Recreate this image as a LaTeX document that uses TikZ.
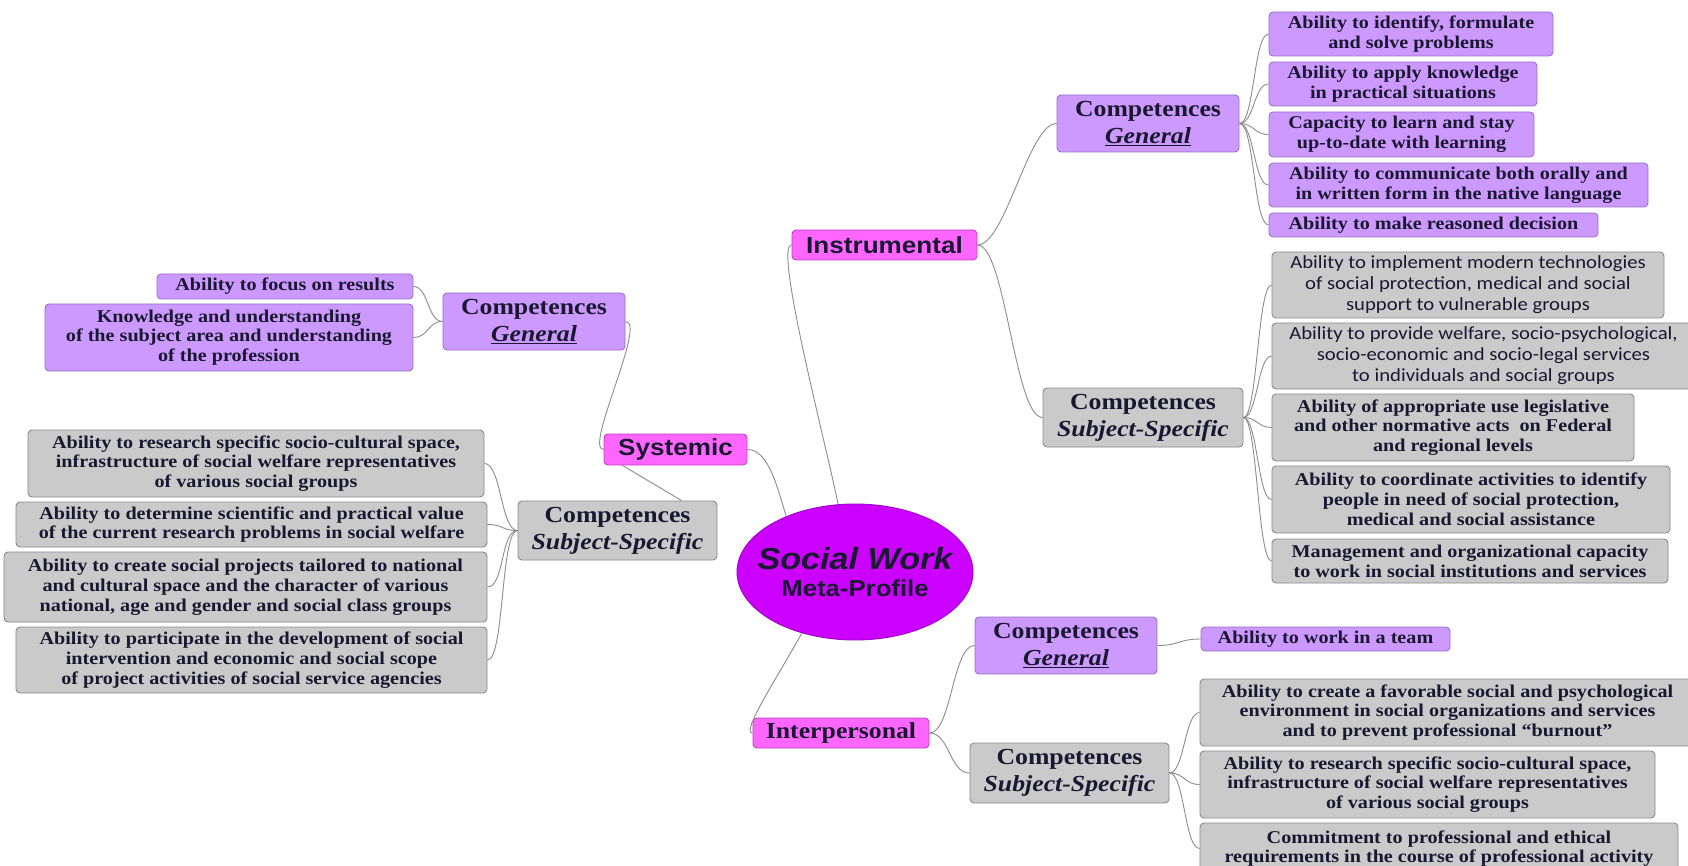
\documentclass[tikz,border=0pt]{standalone}
\usepackage{fontspec}
\usetikzlibrary{fit,calc,shapes.geometric}
\newfontfamily\rs[FakeStretch=1.12]{Liberation Serif}
\newfontfamily\ra[FakeStretch=1.12]{Liberation Sans}
\newfontfamily\rc[FakeStretch=1.12]{Carlito}
\definecolor{lav}{HTML}{CC99FF}
\definecolor{lavd}{HTML}{9A70C8}
\definecolor{gry}{HTML}{CACACA}
\definecolor{gryd}{HTML}{8A8A8A}
\definecolor{mag}{HTML}{FF66FF}
\definecolor{magd}{HTML}{C040C0}
\definecolor{vio}{HTML}{CC00FF}
\definecolor{viod}{HTML}{A000D0}
\definecolor{ink}{HTML}{1A1830}
\definecolor{wire}{HTML}{8C8C8C}
\tikzset{
 base/.style={draw, rounded corners=4pt, line width=0.9pt, inner sep=0pt},
 lavbox/.style={base, fill=lav, draw=lavd},
 grybox/.style={base, fill=gry, draw=gryd},
 magbox/.style={base, fill=mag, draw=magd},
 txt/.style={inner sep=0pt, align=center, text=ink},
 leaftxt/.style={txt, font=\rs\bfseries\fontsize{18}{19.8}\selectfont},
 sanstxt/.style={txt, font=\rc\fontsize{18.5}{21}\selectfont},
 comptxt/.style={txt, font=\rs\bfseries\fontsize{23}{27}\selectfont},
 cattxt/.style={txt, font=\ra\bfseries\fontsize{23.3}{27}\selectfont},
 link/.style={draw=wire, line width=0.9pt},
}
% #1 box style, #2 text style, #3 name, #4-#7 corners, #8 text
\newcommand\boxat[8]{%
 \node[#1, fit={(#4,#5) (#6,#7)}] (#3) {};
 \node[#2] (#3t) at (#3.center) {#8};}
\newcommand\gen{\underline{\textit{General}}}
\newcommand\subj{\textit{Subject-Specific}}
\begin{document}
\begin{tikzpicture}[x=1pt,y=-1pt]
\useasboundingbox (0,0) rectangle (1688,866);
\fill[white] (0,0) rectangle (1688,866);

% centre
\node[ellipse, draw=viod, fill=vio, line width=0.9pt, minimum width=236pt, minimum height=136pt, inner sep=0pt] (sw) at (855,572) {};
\node[txt, font=\ra\bfseries\fontsize{23}{27}\selectfont] (swt) at (sw.center) {{\itshape\fontsize{30.5}{32}\selectfont Social Work}\\Meta-Profile};

% categories
\boxat{magbox}{cattxt}{ins}{792}{230}{977}{260}{Instrumental}
\boxat{magbox}{cattxt}{sys}{604}{434}{747}{465}{Systemic}
\boxat{magbox}{comptxt}{ipr}{753}{718}{929}{748}{Interpersonal}

% competences
\boxat{lavbox}{comptxt}{cgI}{1057}{95}{1239}{152}{Competences\\\gen}
\boxat{grybox}{comptxt}{csI}{1043}{388}{1243}{447}{Competences\\\subj}
\boxat{lavbox}{comptxt}{cgS}{443}{293}{625}{350}{Competences\\\gen}
\boxat{grybox}{comptxt}{csS}{518}{501}{717}{560}{Competences\\\subj}
\boxat{lavbox}{comptxt}{cgP}{975}{617}{1157}{674}{Competences\\\gen}
\boxat{grybox}{comptxt}{csP}{970}{743}{1169}{803}{Competences\\\subj}

% instrumental general
\boxat{lavbox}{leaftxt}{ig1}{1269}{12}{1553}{56}{Ability to identify, formulate\\and solve problems}
\boxat{lavbox}{leaftxt}{ig2}{1269}{62}{1537}{106}{Ability to apply knowledge\\in practical situations}
\boxat{lavbox}{leaftxt}{ig3}{1269}{112}{1534}{157}{Capacity to learn and stay\\up-to-date with learning}
\boxat{lavbox}{leaftxt}{ig4}{1269}{163}{1648}{207}{Ability to communicate both orally and\\in written form in the native language}
\boxat{lavbox}{leaftxt}{ig5}{1269}{213}{1598}{237}{Ability to make reasoned decision}

% instrumental subject-specific
\boxat{grybox}{sanstxt}{is1}{1272}{252}{1664}{318}{Ability to implement modern technologies\\of social protection, medical and social\\support to vulnerable groups}
\boxat{grybox}{sanstxt}{is2}{1272}{323}{1695}{389}{Ability to provide welfare, socio-psychological,\\socio-economic and socio-legal services\\to individuals and social groups}
\boxat{grybox}{leaftxt}{is3}{1272}{394}{1634}{461}{Ability of appropriate use legislative\\and other normative acts\ \ on Federal\\and regional levels}
\boxat{grybox}{leaftxt}{is4}{1272}{466}{1670}{533}{Ability to coordinate activities to identify\\people in need of social protection,\\medical and social assistance}
\boxat{grybox}{leaftxt}{is5}{1272}{539}{1668}{583}{Management and organizational capacity\\to work in social institutions and services}

% systemic general
\boxat{lavbox}{leaftxt}{sg1}{157}{274}{413}{299}{Ability to focus on results}
\boxat{lavbox}{leaftxt}{sg2}{45}{304}{413}{371}{Knowledge and understanding\\of the subject area and understanding\\of the profession}

% systemic subject-specific
\boxat{grybox}{leaftxt}{ss1}{28}{430}{484}{497}{Ability to research specific socio-cultural space,\\infrastructure of social welfare representatives\\of various social groups}
\boxat{grybox}{leaftxt}{ss2}{16}{502}{487}{547}{Ability to determine scientific and practical value\\of the current research problems in social welfare}
\boxat{grybox}{leaftxt}{ss3}{4}{552}{487}{622}{Ability to create social projects tailored to national\\and cultural space and the character of various\\national, age and gender and social class groups}
\boxat{grybox}{leaftxt}{ss4}{16}{627}{487}{693}{Ability to participate in the development of social\\intervention and economic and social scope\\of project activities of social service agencies}

% interpersonal
\boxat{lavbox}{leaftxt}{pt}{1201}{627}{1450}{651}{Ability to work in a team}
\boxat{grybox}{leaftxt}{ps1}{1200}{679}{1695}{746}{Ability to create a favorable social and psychological\\environment in social organizations and services\\and to prevent professional “burnout”}
\boxat{grybox}{leaftxt}{ps2}{1200}{751}{1655}{818}{Ability to research specific socio-cultural space,\\infrastructure of social welfare representatives\\of various social groups}
\boxat{grybox}{leaftxt}{ps3}{1200}{823}{1678}{874}{Commitment to professional and ethical\\requirements in the course of professional activity}

% connectors
\draw[link] (ins.west) .. controls +(-18,0) and +(-12,-60) .. (sw.104);
\draw[link] (sys.east) .. controls +(22,0) and +(-8,-25) .. (sw.141);
\draw[link] (sw.229) .. controls +(-25,45) and +(-12,0) .. (ipr.west);

\draw[link] (sys.west) .. controls +(-20,0) and +(22,0) .. (cgS.east);
\draw[link] ([xshift=19pt]sys.south west) -- ([xshift=164pt]csS.north west);
\foreach \n in {sg1,sg2} \draw[link] (cgS.west) .. controls +(-15,0) and +(15,0) .. (\n.east);
\foreach \n in {ss1,ss2,ss3,ss4} \draw[link] (csS.west) .. controls +(-17,0) and +(17,0) .. (\n.east);

\draw[link] (ins.east) .. controls +(28,0) and +(-28,0) .. (cgI.west);
\draw[link] (ins.east) .. controls +(28,0) and +(-28,0) .. (csI.west);
\foreach \n in {ig1,ig2,ig3,ig4,ig5} \draw[link] (cgI.east) .. controls +(15,0) and +(-15,0) .. (\n.west);
\foreach \n in {is1,is2,is3,is4,is5} \draw[link] (csI.east) .. controls +(14,0) and +(-14,0) .. (\n.west);

\draw[link] (ipr.east) .. controls +(22,0) and +(-22,0) .. (cgP.west);
\draw[link] (ipr.east) .. controls +(20,0) and +(-20,0) .. (csP.west);
\draw[link] (cgP.east) .. controls +(22,0) and +(-22,0) .. (pt.west);
\foreach \n in {ps1,ps2,ps3} \draw[link] (csP.east) .. controls +(15,0) and +(-15,0) .. (\n.west);
\end{tikzpicture}
\end{document}
